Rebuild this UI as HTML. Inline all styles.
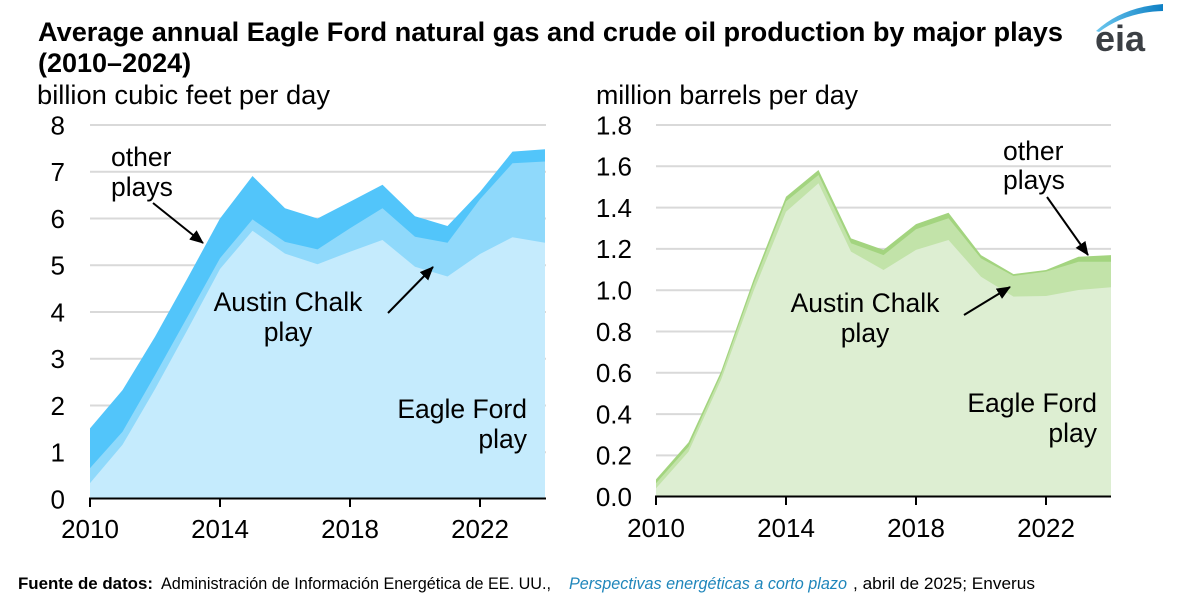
<!DOCTYPE html>
<html><head><meta charset="utf-8"><style>
html,body{margin:0;padding:0;background:#fff;}
svg{display:block;}
text{font-family:"Liberation Sans",Arial,sans-serif;fill:#000;}
</style></head><body>
<svg width="1179" height="612" viewBox="0 0 1179 612" xmlns="http://www.w3.org/2000/svg">
<defs>
<marker id="ah" markerUnits="userSpaceOnUse" viewBox="0 0 14 12" markerWidth="14" markerHeight="12" refX="13" refY="6" orient="auto">
<path d="M0,0 L14,6 L0,12 z" fill="#000"/>
</marker>
<linearGradient id="lg" x1="0" y1="0" x2="1" y2="0">
<stop offset="0" stop-color="#6cc7ee"/><stop offset="1" stop-color="#0d7fc4"/>
</linearGradient>
</defs>

<!-- Title -->
<text x="38" y="41" font-size="27" font-weight="bold" textLength="1025" lengthAdjust="spacingAndGlyphs">Average annual Eagle Ford natural gas and crude oil production by major plays</text>
<text x="38" y="72" font-size="27" font-weight="bold">(2010–2024)</text>

<!-- logo -->
<path d="M1096,31 Q1122,7 1163,4 L1163,11 Q1126,12 1099,32 Z" fill="url(#lg)"/>
<text x="1095" y="51" font-size="36" font-weight="bold" style="fill:#3b3f44">eia</text>

<!-- Unit labels -->
<text x="37" y="104" font-size="27" textLength="293" lengthAdjust="spacingAndGlyphs">billion cubic feet per day</text>
<text x="596" y="104" font-size="27" textLength="262" lengthAdjust="spacingAndGlyphs">million barrels per day</text>

<!-- LEFT CHART gridlines -->
<g stroke="#d9d9d9" stroke-width="2">
<line x1="90" x2="546" y1="452.25" y2="452.25"/>
<line x1="90" x2="546" y1="405.5" y2="405.5"/>
<line x1="90" x2="546" y1="358.75" y2="358.75"/>
<line x1="90" x2="546" y1="312" y2="312"/>
<line x1="90" x2="546" y1="265.25" y2="265.25"/>
<line x1="90" x2="546" y1="218.5" y2="218.5"/>
<line x1="90" x2="546" y1="171.75" y2="171.75"/>
<line x1="90" x2="546" y1="125" y2="125"/>
</g>

<!-- Left areas -->
<polygon fill="#52c5fa" points="90,499 90,428.4 122.5,390.1 155,336.8 187.5,278.3 220,218.5 252.5,176 285,208.2 317.5,218.5 350,201.7 382.5,184.8 415,216.2 447.5,226 480,191.9 512.5,151.6 545,149.3 545,499"/>
<polygon fill="#8fd9fb" points="90,499 90,468.1 122.5,431.7 155,375.1 187.5,316.7 220,258.2 252.5,219.4 285,241.9 317.5,249.4 350,228.3 382.5,208.2 415,236.7 447.5,242.8 480,199.3 512.5,163.3 545,161.5 545,499"/>
<polygon fill="#c5ebfd" points="90,499 90,483.1 122.5,444.8 155,389.1 187.5,329.8 220,269 252.5,230.7 285,253.6 317.5,264.3 350,251.7 382.5,240 415,266.7 447.5,276.5 480,254 512.5,237.2 545,242.8 545,499"/>

<!-- Left axis -->
<line x1="89" x2="546" y1="498.5" y2="498.5" stroke="#000" stroke-width="2"/>
<g stroke="#000" stroke-width="2">
<line x1="90" x2="90" y1="498" y2="507"/>
<line x1="220" x2="220" y1="498" y2="507"/>
<line x1="350" x2="350" y1="498" y2="507"/>
<line x1="480" x2="480" y1="498" y2="507"/>
</g>
<g font-size="26" text-anchor="end">
<text x="65" y="508.3">0</text>
<text x="65" y="461.5">1</text>
<text x="65" y="414.8">2</text>
<text x="65" y="368">3</text>
<text x="65" y="321.3">4</text>
<text x="65" y="274.5">5</text>
<text x="65" y="227.8">6</text>
<text x="65" y="181">7</text>
<text x="65" y="134.3">8</text>
</g>
<g font-size="26" text-anchor="middle">
<text x="90" y="538">2010</text>
<text x="220" y="538">2014</text>
<text x="350" y="538">2018</text>
<text x="480" y="538">2022</text>
</g>

<!-- Left annotations -->
<g font-size="26.5">
<text x="111" y="166">other</text>
<text x="111" y="196">plays</text>
<text x="288" y="311" text-anchor="middle">Austin Chalk</text>
<text x="288" y="341" text-anchor="middle">play</text>
<text x="527" y="418" text-anchor="end">Eagle Ford</text>
<text x="527" y="448" text-anchor="end">play</text>
</g>
<line x1="153" y1="203" x2="203" y2="243" stroke="#000" stroke-width="2" marker-end="url(#ah)"/>
<line x1="388" y1="313" x2="433" y2="267" stroke="#000" stroke-width="2" marker-end="url(#ah)"/>

<!-- RIGHT CHART gridlines -->
<g stroke="#d9d9d9" stroke-width="2">
<line x1="656" x2="1111" y1="455.4" y2="455.4"/>
<line x1="656" x2="1111" y1="414.1" y2="414.1"/>
<line x1="656" x2="1111" y1="372.8" y2="372.8"/>
<line x1="656" x2="1111" y1="331.5" y2="331.5"/>
<line x1="656" x2="1111" y1="290.2" y2="290.2"/>
<line x1="656" x2="1111" y1="248.9" y2="248.9"/>
<line x1="656" x2="1111" y1="207.6" y2="207.6"/>
<line x1="656" x2="1111" y1="166.3" y2="166.3"/>
<line x1="656" x2="1111" y1="125" y2="125"/>
</g>

<!-- Right areas -->
<polygon fill="#a3d47f" points="656,496.7 656,479.4 688.5,442.4 721,371.8 753.5,279.9 786,196.7 818.5,170 851,238.4 883.5,249.9 916,224.1 948.5,212.8 981,255.1 1013.5,274.1 1046,270 1078.5,256.7 1111,255.1 1111,496.7"/>
<polygon fill="#c2e3a9" points="656,496.7 656,483.3 688.5,446.7 721,375.1 753.5,284 786,201.4 818.5,175 851,243.3 883.5,255.1 916,229.3 948.5,218.3 981,258.4 1013.5,276 1046,271.6 1078.5,261.7 1111,261.7 1111,496.7"/>
<polygon fill="#ddeed2" points="656,496.7 656,488.4 688.5,451.7 721,380 753.5,291.2 786,211.7 818.5,183.2 851,251.6 883.5,270 916,249.9 948.5,240 981,276.8 1013.5,296.6 1046,296 1078.5,290 1111,287.3 1111,496.7"/>

<!-- Right axis -->
<line x1="655" x2="1111" y1="496.5" y2="496.5" stroke="#000" stroke-width="2"/>
<g stroke="#000" stroke-width="2">
<line x1="656" x2="656" y1="496" y2="505"/>
<line x1="786" x2="786" y1="496" y2="505"/>
<line x1="916" x2="916" y1="496" y2="505"/>
<line x1="1046" x2="1046" y1="496" y2="505"/>
</g>
<g font-size="26" text-anchor="end">
<text x="632" y="506">0.0</text>
<text x="632" y="464.7">0.2</text>
<text x="632" y="423.4">0.4</text>
<text x="632" y="382.1">0.6</text>
<text x="632" y="340.8">0.8</text>
<text x="632" y="299.5">1.0</text>
<text x="632" y="258.2">1.2</text>
<text x="632" y="216.9">1.4</text>
<text x="632" y="175.6">1.6</text>
<text x="632" y="134.3">1.8</text>
</g>
<g font-size="26" text-anchor="middle">
<text x="656" y="537">2010</text>
<text x="786" y="537">2014</text>
<text x="916" y="537">2018</text>
<text x="1046" y="537">2022</text>
</g>

<!-- Right annotations -->
<g font-size="26.5">
<text x="1003" y="160">other</text>
<text x="1003" y="189">plays</text>
<text x="865" y="312" text-anchor="middle">Austin Chalk</text>
<text x="865" y="342" text-anchor="middle">play</text>
<text x="1097" y="412" text-anchor="end">Eagle Ford</text>
<text x="1097" y="442" text-anchor="end">play</text>
</g>
<line x1="1047" y1="197" x2="1088" y2="255" stroke="#000" stroke-width="2" marker-end="url(#ah)"/>
<line x1="964" y1="315" x2="1010" y2="287" stroke="#000" stroke-width="2" marker-end="url(#ah)"/>

<!-- Footer -->
<text x="18" y="589" font-size="17" font-weight="bold" textLength="135" lengthAdjust="spacingAndGlyphs">Fuente de datos:</text>
<text x="161" y="589" font-size="17" textLength="390" lengthAdjust="spacingAndGlyphs">Administración de Información Energética de EE. UU.,</text>
<text x="569" y="589" font-size="17" font-style="italic" textLength="278" lengthAdjust="spacingAndGlyphs" style="fill:#1f86bb">Perspectivas energéticas a corto plazo</text>
<text x="853" y="589" font-size="17" textLength="182" lengthAdjust="spacingAndGlyphs">, abril de 2025; Enverus</text>
</svg>
</body></html>
